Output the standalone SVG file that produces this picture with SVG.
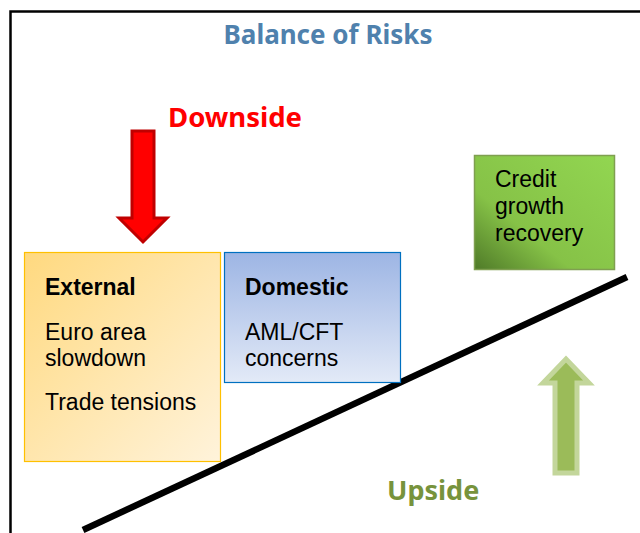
<svg xmlns="http://www.w3.org/2000/svg" width="640" height="533" viewBox="0 0 640 533">
<style>
text{font-family:"Noto Sans","Open Sans","Liberation Sans",sans-serif;}
.b{font-weight:bold;}
.t{font-family:"Liberation Sans","Noto Sans",sans-serif;font-size:23px;fill:#000;}
</style>
<defs>
<linearGradient id="gy" x1="0" y1="0" x2="1" y2="1">
<stop offset="0" stop-color="#FFD97F"/><stop offset="1" stop-color="#FFF3DB"/>
</linearGradient>
<linearGradient id="gb" x1="0" y1="0" x2="0" y2="1">
<stop offset="0" stop-color="#9DB5E4"/><stop offset="1" stop-color="#E3EAF7"/>
</linearGradient>
<linearGradient id="gg" x1="0" y1="1" x2="1" y2="0">
<stop offset="0" stop-color="#4F7A28"/><stop offset="0.35" stop-color="#86C247"/><stop offset="1" stop-color="#92D651"/>
</linearGradient>
</defs>
<rect x="0" y="0" width="640" height="533" fill="#fff"/>
<path d="M10.5,533 V11.5 H640" fill="none" stroke="#000" stroke-width="2.5"/>
<text x="328" y="44" text-anchor="middle" class="b" font-size="26" fill="#4F81AD">Balance of Risks</text>
<g id="connectors">
<line x1="83" y1="530" x2="627" y2="277" stroke="#000" stroke-width="6.5"/>
</g>
<g id="downside">
<text x="168" y="127" class="b" font-size="27.5" fill="#FF0000">Downside</text>
<path d="M132,131 H154 V218 H167 L143,242 L119,218 H132 Z" fill="#FF0000" stroke="#C00000" stroke-width="3"/>
</g>
<g id="upside">
<path d="M555,473 V383 H543 L566,359 L589,383 H577 V473 Z" fill="#9BBB59" stroke="#C3D69B" stroke-width="5" stroke-linejoin="miter"/>
<text x="387" y="500" class="b" font-size="27" fill="#77933C">Upside</text>
</g>
<g id="external">
<rect x="24.5" y="252.5" width="196" height="209" fill="url(#gy)" stroke="#FFC000" stroke-width="1.2"/>
<text x="45" y="295" class="t b">External</text>
<text x="45" y="340" class="t">Euro area</text>
<text x="45" y="366" class="t">slowdown</text>
<text x="45" y="410" class="t">Trade tensions</text>
</g>
<g id="domestic">
<rect x="224.5" y="252.5" width="176" height="130" fill="url(#gb)" stroke="#0070C0" stroke-width="1.2"/>
<text x="245" y="295" class="t b">Domestic</text>
<text x="245" y="340" class="t">AML/CFT</text>
<text x="245" y="366" class="t">concerns</text>
</g>
<g id="credit">
<rect x="474.5" y="155.5" width="140" height="114" fill="url(#gg)" stroke="#7F9F50" stroke-width="1.5"/>
<text x="495" y="187" class="t">Credit</text>
<text x="495" y="214" class="t">growth</text>
<text x="495" y="241" class="t">recovery</text>
</g>
</svg>
